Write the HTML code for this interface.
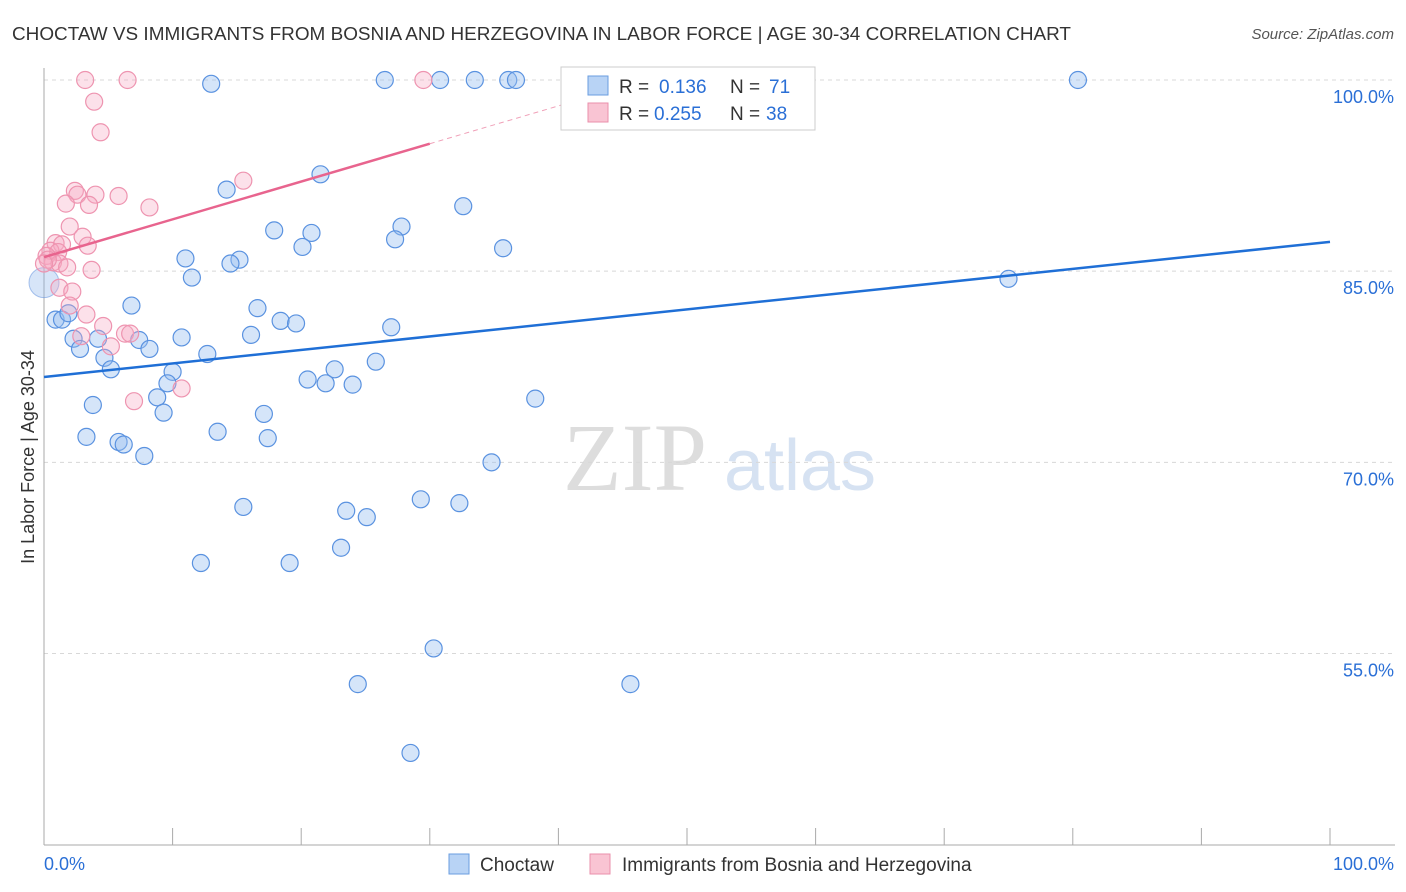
<!DOCTYPE html>
<html><head><meta charset="utf-8"><style>
body{margin:0;background:#fff;font-family:"Liberation Sans",sans-serif}
svg{display:block}
</style></head><body>
<svg id="chart" width="1406" height="892">
<text x="12" y="40" font-size="18" fill="#333" textLength="1059" lengthAdjust="spacingAndGlyphs">CHOCTAW VS IMMIGRANTS FROM BOSNIA AND HERZEGOVINA IN LABOR FORCE | AGE 30-34 CORRELATION CHART</text>
<text x="1394" y="39" font-size="15" fill="#555" font-style="italic" text-anchor="end">Source: ZipAtlas.com</text>
<g>
<text x="635" y="490" font-size="96" font-family="Liberation Serif, serif" fill="#ddd" text-anchor="middle">ZIP</text>
<text x="800" y="490" font-size="72" fill="#d6e2f2" text-anchor="middle">atlas</text>
</g>
<g id="grid"></g>
<g id="marks"></g>
<text transform="translate(34,457) rotate(-90)" font-size="18" fill="#333" text-anchor="middle">In Labor Force | Age 30-34</text>
<g>
<rect x="561" y="67" width="254" height="63" fill="#fff" stroke="#ccc"/>
<rect x="588" y="76" width="20" height="19" fill="#b8d3f5" stroke="#6a9ee0"/>
<rect x="588" y="103" width="20" height="19" fill="#f9c4d3" stroke="#ea8fab"/>
<text x="619" y="93" font-size="19" fill="#333">R =</text>
<text x="659" y="93" font-size="19" fill="#2a6fd6">0.136</text>
<text x="730" y="93" font-size="19" fill="#333">N =</text>
<text x="769" y="93" font-size="19" fill="#2a6fd6">71</text>
<text x="619" y="120" font-size="19" fill="#333">R =</text>
<text x="654" y="120" font-size="19" fill="#2a6fd6">0.255</text>
<text x="730" y="120" font-size="19" fill="#333">N =</text>
<text x="766" y="120" font-size="19" fill="#2a6fd6">38</text>
</g>
<g>
<rect x="449" y="854" width="20" height="20" fill="#b8d3f5" stroke="#6a9ee0"/>
<text x="480" y="871" font-size="19" fill="#333">Choctaw</text>
<rect x="590" y="854" width="20" height="20" fill="#f9c4d3" stroke="#ea8fab"/>
<text x="622" y="871" font-size="19" fill="#333">Immigrants from Bosnia and Herzegovina</text>
</g>
<text x="44" y="870" font-size="18" fill="#2a6fd6">0.0%</text>
<text x="1394" y="870" font-size="18" fill="#2a6fd6" text-anchor="end">100.0%</text>
</svg>
<script>
const yTicks=[100,85,70,55];
const yTickLabels=["100.0%","85.0%","70.0%","55.0%"];
const blueX=[13.0,26.5,30.8,33.5,36.1,36.7,80.4,14.2,21.5,32.6,17.9,20.8,27.8,27.3,20.1,35.7,11.0,15.2,14.5,11.5,75.0,6.8,16.6,0.9,1.4,1.9,18.4,19.6,27.0,2.3,4.2,7.4,10.7,16.1,8.2,2.8,12.7,4.7,25.8,5.2,10.0,22.6,20.5,21.9,24.0,9.6,8.8,38.2,3.8,9.3,17.1,13.5,3.3,5.8,6.2,17.4,7.8,34.8,29.3,32.3,15.5,23.5,25.1,23.1,12.2,19.1,30.3,24.4,45.6,28.5];
const blueY=[99.7,100,100,100,100,100,100,91.4,92.6,90.1,88.2,88.0,88.5,87.5,86.9,86.8,86.0,85.9,85.6,84.5,84.4,82.3,82.1,81.2,81.2,81.7,81.1,80.9,80.6,79.7,79.7,79.6,79.8,80.0,78.9,78.9,78.5,78.2,77.9,77.3,77.1,77.3,76.5,76.2,76.1,76.2,75.1,75.0,74.5,73.9,73.8,72.4,72.0,71.6,71.4,71.9,70.5,70.0,67.1,66.8,66.5,66.2,65.7,63.3,62.1,62.1,55.4,52.6,52.6,47.2];
const pinkX=[3.2,6.5,29.5,3.9,4.4,15.5,2.4,2.6,4.0,5.8,1.7,3.5,8.2,2.0,3.0,0.9,1.4,3.4,0.5,1.1,0.2,0.7,1.2,1.8,0.3,3.7,1.2,2.2,2.0,3.3,4.6,6.3,6.7,2.9,5.2,10.7,7.0,0];
const pinkY=[100,100,100,98.3,95.9,92.1,91.3,91.0,91.0,90.9,90.3,90.2,90.0,88.5,87.7,87.2,87.1,87.0,86.6,86.5,86.2,85.7,85.6,85.3,85.9,85.1,83.7,83.4,82.3,81.6,80.7,80.1,80.1,79.9,79.1,75.8,74.8,85.6];
const blueTrend=[76.7,87.3];
const pinkTrend=[86.1,95.0];
const NS="http://www.w3.org/2000/svg";
const X=v=>44+v*12.86, Y=v=>80+(100-v)*12.745;
const grid=document.getElementById('grid'), marks=document.getElementById('marks');
function mk(tag,attrs,parent){const e=document.createElementNS(NS,tag);for(const k in attrs)e.setAttribute(k,attrs[k]);parent.appendChild(e);return e;}
yTicks.forEach((t,i)=>{
 const l=mk('line',{x1:44,x2:1395,y1:Y(t),y2:Y(t),stroke:'#d8d8d8','stroke-dasharray':'4,4'},grid);
 
 
 const tx=mk('text',{x:1394,y:Y(t)+23,'font-size':18,fill:'#2a6fd6','text-anchor':'end'},grid);
 tx.textContent=yTickLabels[i];
 
 
});
const ax=mk('line',{x1:44,x2:44,y1:68,y2:845,stroke:'#aaa'},grid);


const bx=mk('line',{x1:44,x2:1395,y1:845,y2:845,stroke:'#aaa'},grid);


for(let i=0;i<=10;i++){const t=mk('line',{x1:X(i*10),x2:X(i*10),y1:828,y2:845,stroke:'#aaa'},grid);
 
 }
const big=mk('circle',{cx:X(0),cy:Y(84.1),r:15,fill:'rgba(140,180,235,0.35)',stroke:'rgba(90,140,220,0.5)'},marks);


blueX.forEach((v,i)=>{const c=mk('circle',{cx:X(v),cy:Y(blueY[i]),r:8.5,fill:'rgba(150,190,240,0.4)',stroke:'#5a92e0','stroke-width':1.2},marks);
 
 });
pinkX.forEach((v,i)=>{const c=mk('circle',{cx:X(v),cy:Y(pinkY[i]),r:8.5,fill:'rgba(245,170,195,0.35)',stroke:'#ee94b0','stroke-width':1.2},marks);
 
 });
const bl=mk('line',{x1:X(0),y1:Y(blueTrend[0]),x2:X(100),y2:Y(blueTrend[1]),stroke:'#1f6fd6','stroke-width':2.5},marks);


const slope=(pinkTrend[1]-pinkTrend[0])/30;
const xEnd=(100-pinkTrend[0])/slope;
const pl=mk('line',{x1:X(0),y1:Y(pinkTrend[0]),x2:X(30),y2:Y(pinkTrend[1]),stroke:'#e8648e','stroke-width':2.5},marks);


const pd=mk('line',{x1:X(30),y1:Y(pinkTrend[1]),x2:X(xEnd),y2:Y(100),stroke:'#f0a0b8','stroke-width':1,'stroke-dasharray':'5,4'},marks);


</script>
</body></html>
